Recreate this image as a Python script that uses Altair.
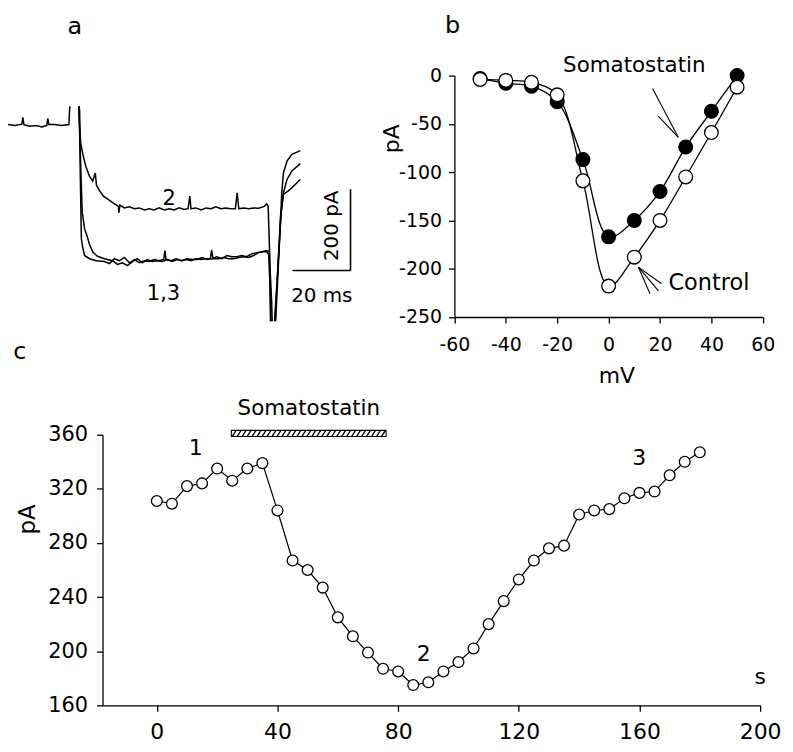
import altair as alt
import pandas as pd
import numpy as np

FONT = "DejaVu Sans"

# ---------------- panel a: current traces (time in ms, current in pA) ----------------
base_t = [0.0, 2.4, 4.8, 5.1, 5.5, 7.5, 9.6, 11.7, 13.4, 13.7, 14.1, 16.1, 18.5, 21.0, 21.3]
base_i = [0, -2, 1, 18, 0, -4, -2, -6, -2, 15, 0, 0, -2, 0, 45]

tr2_t = [24.4, 24.7, 25.0, 25.7, 26.8, 28.1, 29.2, 30.1, 30.5, 31.6, 32.9, 34.3, 35.7, 37.4,
         38.1, 38.2, 38.6, 40.1, 41.9, 43.6, 45.3, 47.0, 48.7, 50.4, 52.1, 53.9, 55.6, 57.3,
         59.0, 60.7, 62.1, 62.7, 63.1, 64.8, 66.6, 68.3, 70.0, 71.7, 73.4, 75.1, 76.8, 78.4,
         79.0, 79.6, 81.3, 83.0, 84.7, 86.4, 88.2, 89.2, 89.7, 90.2, 90.5]
tr2_i = [45, -4, -41, -70, -102, -127, -139, -119, -149, -163, -176, -183, -190, -198,
         -202, -217, -198, -205, -202, -207, -205, -210, -207, -210, -205, -210, -207, -210,
         -205, -209, -207, -176, -207, -205, -210, -205, -207, -202, -207, -205, -207, -207,
         -168, -207, -205, -207, -205, -206, -202, -195, -200, -310, -484]
tr2_tail_t = [92.3, 93.3, 94.2, 94.4, 95.0, 96.2, 97.9, 100.8]
tr2_tail_i = [-484, -335, -200, -167, -118, -90, -73, -64]

tr1_t = [24.4, 24.7, 24.9, 25.3, 25.7, 26.4, 28.1, 30.4, 33.3, 35.0, 36.7, 38.4, 40.1, 41.9,
         43.6, 45.3, 47.0, 48.7, 50.4, 52.1, 53.7, 54.1, 54.5, 56.3, 58.0, 59.7, 61.4, 63.1,
         64.8, 66.6, 68.3, 69.8, 70.2, 70.7, 72.7, 74.4, 76.2, 77.9, 79.6, 81.3, 83.0, 84.7,
         86.4, 88.2, 89.2, 89.9, 90.4, 90.7]
tr1_i = [45, 37, -114, -281, -300, -322, -330, -335, -337, -342, -330, -335, -327, -340,
         -332, -340, -335, -337, -332, -335, -332, -310, -332, -335, -330, -335, -332, -335,
         -330, -332, -330, -330, -308, -330, -330, -327, -330, -330, -327, -325, -327, -322,
         -315, -313, -313, -320, -408, -484]
tr1_tail_t = [91.9, 93.0, 94.0, 95.0, 96.7, 98.5, 100.8]
tr1_tail_i = [-484, -359, -224, -171, -163, -151, -135]

tr3_t = [24.4, 24.9, 25.6, 26.4, 27.2, 28.1, 29.3, 30.9, 32.7, 34.3, 36.1, 37.7, 39.5, 41.2,
         42.9, 44.6, 46.3, 48.0, 49.7, 51.5, 53.2, 54.9, 56.6, 58.3, 60.0, 61.7, 63.5, 65.2,
         66.9, 68.6, 70.3, 72.0, 73.8, 75.5, 77.2, 78.9, 80.6, 82.3, 84.0, 85.8, 87.5, 89.2,
         90.1, 90.9, 91.1]
tr3_i = [45, -65, -216, -256, -273, -295, -314, -324, -329, -332, -335, -344, -340, -347,
         -337, -330, -340, -332, -337, -335, -337, -332, -337, -332, -335, -330, -332, -332,
         -327, -332, -330, -325, -330, -322, -325, -325, -322, -325, -318, -315, -313, -310,
         -313, -433, -484]
tr3_tail_t = [92.1, 93.1, 94.2, 95.0, 96.2, 97.9, 100.8]
tr3_tail_i = [-484, -347, -217, -167, -135, -114, -96]

# scale bars: 20 ms, 200 pA
sb_t = [98.1, 118.1]
sb_i = [-359, -159]

# ---------------- panel b: I-V relation (mV, pA) ----------------
iv_mv = [-50, -40, -30, -20, -10, 0, 10, 20, 30, 40, 50]
iv_control = [-4, -5, -7, -20, -109, -218, -188, -150, -105, -59, -12]
iv_somato = [-3, -8, -11, -27, -87, -167, -150, -120, -74, -37, 0]
b_xticks = [-60, -40, -20, 0, 20, 40, 60]
b_yticks = [0, -50, -100, -150, -200, -250]

# ---------------- panel c: time course (s, pA) ----------------
tc_s = [0, 5, 10, 15, 20, 25, 30, 35, 40, 45, 50, 55, 60, 65, 70, 75, 80, 85, 90,
        95, 100, 105, 110, 115, 120, 125, 130, 135, 140, 145, 150, 155, 160, 165, 170, 175, 180]
tc_pA = [311, 309, 322, 324, 335, 326, 335, 339, 304, 267, 260, 247, 225, 211, 199, 187, 185, 175, 177,
         185, 192, 202, 220, 237, 253, 267, 276, 278, 301, 304, 305, 313, 317, 318, 330, 340, 347]
c_xticks = [0, 40, 80, 120, 160, 200]
c_yticks = [160, 200, 240, 280, 320, 360]
drug_on, drug_off = 24.7, 76.0       # somatostatin application (s)
drug_bar_lo, drug_bar_hi = 358.7, 363.2

# ---------------- scales (each panel has its own pixel range) ----------------
def A_X():
    return alt.Scale(domain=[0, 100], range=[-95, 196.5], nice=False, zero=False)
def A_Y():
    return alt.Scale(domain=[-500, 100], range=[-107.45, -352.55], nice=False, zero=False)
def B_X():
    return alt.Scale(domain=[-60, 60], range=[353.7, 663.7], nice=False, zero=False)
def B_Y():
    return alt.Scale(domain=[-250, 0], range=[-118.3, -361], nice=False, zero=False)
def C_X():
    return alt.Scale(domain=[-18, 200], range=[0, 661], nice=False, zero=False)
def C_Y():
    return alt.Scale(domain=[160, 360], range=[272, 0], nice=False, zero=False)


def text(xs, ys, x, y, label, size, align="center", baseline="alphabetic", angle=0):
    kw = dict(font=FONT, fontSize=size, align=align, baseline=baseline, color="black")
    if angle:
        kw["angle"] = angle
    df = pd.DataFrame({"x": [x], "y": [y], "label": [label]})
    return alt.Chart(df).mark_text(**kw).encode(
        x=alt.X("x:Q", scale=xs(), axis=None),
        y=alt.Y("y:Q", scale=ys(), axis=None),
        text="label:N",
    )


def axis(values, orient, size, pad, offset=0, hyphen=False):
    kw = dict(values=values, title=None, grid=False, orient=orient,
              tickSize=6, labelPadding=pad, labelFont=FONT, labelFontSize=size,
              labelColor="black", domainColor="black", tickColor="black",
              domainWidth=1.3, tickWidth=1.3, labelFlush=False, labelOverlap=False)
    if offset:
        kw["offset"] = offset
    if hyphen:
        kw["labelExpr"] = "toString(datum.value)"
    return alt.Axis(**kw)


# ---------------- panel a ----------------
segs = [("base", base_t, base_i), ("t2", tr2_t, tr2_i), ("t2tail", tr2_tail_t, tr2_tail_i),
        ("t1", tr1_t, tr1_i), ("t1tail", tr1_tail_t, tr1_tail_i),
        ("t3", tr3_t, tr3_i), ("t3tail", tr3_tail_t, tr3_tail_i)]
rows = []
for name, ts, cur in segs:
    for k, (tt, ii) in enumerate(zip(ts, cur)):
        rows.append({"seg": name, "k": k, "t": tt, "i": ii})
df_a = pd.DataFrame(rows)

a_traces = alt.Chart(df_a).mark_line(color="black", strokeWidth=1.5).encode(
    x=alt.X("t:Q", scale=A_X(), axis=None),
    y=alt.Y("i:Q", scale=A_Y(), axis=None),
    detail="seg:N",
    order=alt.Order("k:Q"),
)
df_sb = pd.DataFrame({"t0": [sb_t[0], sb_t[1]], "t1": [sb_t[1], sb_t[1]],
                      "i0": [sb_i[0], sb_i[0]], "i1": [sb_i[0], sb_i[1]]})
a_bar = alt.Chart(df_sb).mark_rule(color="black", strokeWidth=1.6).encode(
    x=alt.X("t0:Q", scale=A_X(), axis=None), x2="t1:Q",
    y=alt.Y("i0:Q", scale=A_Y(), axis=None), y2="i1:Q",
)
panel_a = [
    a_traces, a_bar,
    text(A_X, A_Y, 23.0, 224, "a", 24),
    text(A_X, A_Y, 55.6, -197, "2", 21),
    text(A_X, A_Y, 53.6, -432, "1,3", 21),
    text(A_X, A_Y, 108.2, -436, "20 ms", 20),
    text(A_X, A_Y, 111.8, -249, "200 pA", 20, baseline="middle", angle=270),
]

# ---------------- panel b ----------------
df_b = pd.DataFrame({"mv": iv_mv + iv_mv,
                     "pa": iv_control + iv_somato,
                     "cond": ["Control"] * len(iv_mv) + ["Somatostatin"] * len(iv_mv)})
b_lines = alt.Chart(df_b).mark_line(color="black", strokeWidth=1.3, interpolate="catmull-rom").encode(
    x=alt.X("mv:Q", scale=B_X(), axis=axis(b_xticks, "bottom", 19, 13, offset=-390.3, hyphen=True)),
    y=alt.Y("pa:Q", scale=B_Y(), axis=axis(b_yticks, "left", 19, 7, offset=-353.7, hyphen=True)),
    detail="cond:N",
)
b_filled = alt.Chart(df_b[df_b.cond == "Somatostatin"]).mark_point(
    shape="circle", filled=True, fill="black", stroke="black", strokeWidth=1.3, size=190, opacity=1
).encode(x=alt.X("mv:Q", scale=B_X(), axis=None), y=alt.Y("pa:Q", scale=B_Y(), axis=None))
b_open = alt.Chart(df_b[df_b.cond == "Control"]).mark_point(
    shape="circle", filled=True, fill="white", stroke="black", strokeWidth=1.3, size=190, opacity=1
).encode(x=alt.X("mv:Q", scale=B_X(), axis=None), y=alt.Y("pa:Q", scale=B_Y(), axis=None))

# arrows (label pointers), in mV / pA
arrow_x0 = [17.1, 19.4, 20.6, 16.1, 19.4]
arrow_y0 = [-13.4, -42.2, -215.6, -225.9, -223.0]
arrow_x1 = [27.1, 27.1, 11.6, 11.6, 11.6]
arrow_y1 = [-63.9, -63.9, -198.4, -198.4, -198.4]
df_arrow = pd.DataFrame({"x0": arrow_x0, "y0": arrow_y0, "x1": arrow_x1, "y1": arrow_y1})
b_arrows = alt.Chart(df_arrow).mark_rule(color="black", strokeWidth=1.1).encode(
    x=alt.X("x0:Q", scale=B_X(), axis=None), x2="x1:Q",
    y=alt.Y("y0:Q", scale=B_Y(), axis=None), y2="y1:Q",
)
panel_b = [
    b_lines, b_filled, b_open, b_arrows,
    text(B_X, B_Y, -60.7, 44.3, "b", 24),
    text(B_X, B_Y, 10.0, 4.1, "Somatostatin", 21.5),
    text(B_X, B_Y, 23.3, -222.5, "Control", 22.5, align="left"),
    text(B_X, B_Y, 3.2, -318.2, "mV", 22),
    text(B_X, B_Y, -84.3, -65.4, "pA", 22, baseline="middle", angle=270),
]

# ---------------- panel c ----------------
df_c = pd.DataFrame({"s": tc_s, "pA": tc_pA})
c_line = alt.Chart(df_c).mark_line(color="black", strokeWidth=1.2).encode(
    x=alt.X("s:Q", scale=C_X(), axis=axis(c_xticks, "bottom", 22, 10)),
    y=alt.Y("pA:Q", scale=C_Y(), axis=axis(c_yticks, "left", 21, 9)),
)
c_pts = alt.Chart(df_c).mark_point(
    shape="circle", filled=True, fill="white", stroke="black", strokeWidth=1.3, size=118, opacity=1
).encode(x=alt.X("s:Q", scale=C_X(), axis=None), y=alt.Y("pA:Q", scale=C_Y(), axis=None))

df_drug = pd.DataFrame({"a": [drug_on], "b": [drug_off], "lo": [drug_bar_lo], "hi": [drug_bar_hi]})
c_drug = alt.Chart(df_drug).mark_rect(fill="white", stroke="black", strokeWidth=1.1).encode(
    x=alt.X("a:Q", scale=C_X(), axis=None), x2="b:Q",
    y=alt.Y("lo:Q", scale=C_Y(), axis=None), y2="hi:Q",
)
# hatching of the application bar (decoration)
h0 = np.arange(drug_on + 0.3, drug_off - 1.3, 1.65)
df_hatch = pd.DataFrame({"a": h0, "b": h0 + 1.3, "lo": drug_bar_lo, "hi": drug_bar_hi})
c_hatch = alt.Chart(df_hatch).mark_rule(color="black", strokeWidth=1.3).encode(
    x=alt.X("a:Q", scale=C_X(), axis=None), x2="b:Q",
    y=alt.Y("lo:Q", scale=C_Y(), axis=None), y2="hi:Q",
)
panel_c = [
    c_line, c_pts, c_drug, c_hatch,
    text(C_X, C_Y, 50.4, 374.7, "Somatostatin", 21.5),
    text(C_X, C_Y, 12.9, 345.3, "1", 22),
    text(C_X, C_Y, 88.5, 193.0, "2", 22),
    text(C_X, C_Y, 159.9, 337.9, "3", 22),
    text(C_X, C_Y, 200.0, 175.9, "s", 22),
    text(C_X, C_Y, -45.4, 416.0, "c", 24),
    text(C_X, C_Y, -42.6, 297.4, "pA", 23, baseline="middle", angle=270),
]

chart = alt.layer(*(panel_c + panel_b + panel_a)).resolve_scale(
    x="independent", y="independent"
).resolve_axis(
    x="independent", y="independent"
).properties(
    width=661, height=272,
    autosize=alt.AutoSizeParams(type="none"),
    padding={"left": 95, "top": 427, "right": 25, "bottom": 40},
    background="white",
).configure_view(stroke="transparent")

chart.save("out.html", embed_options={"renderer": "svg", "actions": False})
